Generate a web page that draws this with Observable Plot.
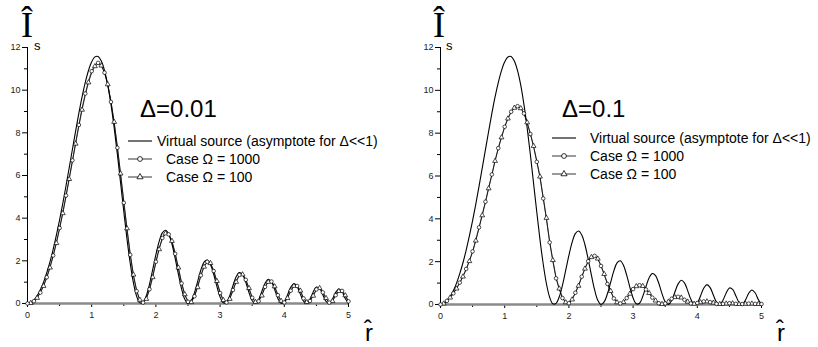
<!DOCTYPE html>
<html><head><meta charset="utf-8">
<script src="https://cdn.jsdelivr.net/npm/d3@7"></script>
<script src="https://cdn.jsdelivr.net/npm/@observablehq/plot@0.6"></script>
<style>
html,body{margin:0;padding:0;background:#fff;}
#wrap{display:flex;width:818px;height:347px;overflow:hidden;}
#wrap svg{display:block;}
</style></head><body><div id="wrap"></div>
<script>
// r-hat sample positions
const rGrid = [0.00,0.05,0.10,0.15,0.20,0.25,0.30,0.35,0.40,0.45,
  0.50,0.55,0.60,0.65,0.70,0.75,0.80,0.85,0.90,0.95,
  1.00,1.05,1.10,1.15,1.20,1.25,1.30,1.35,1.40,1.45,
  1.50,1.55,1.60,1.65,1.70,1.75,1.80,1.85,1.90,1.95,
  2.00,2.05,2.10,2.15,2.20,2.25,2.30,2.35,2.40,2.45,
  2.50,2.55,2.60,2.65,2.70,2.75,2.80,2.85,2.90,2.95,
  3.00,3.05,3.10,3.15,3.20,3.25,3.30,3.35,3.40,3.45,
  3.50,3.55,3.60,3.65,3.70,3.75,3.80,3.85,3.90,3.95,
  4.00,4.05,4.10,4.15,4.20,4.25,4.30,4.35,4.40,4.45,
  4.50,4.55,4.60,4.65,4.70,4.75,4.80,4.85,4.90,4.95,5.00];

// Virtual source (asymptote for Δ<<1), same in both panels
const virtualSource = [0,0.04,0.16,0.36,0.64,1.00,1.44,1.95,2.54,3.20,
  3.92,4.69,5.52,6.37,7.23,8.09,8.92,9.69,10.36,10.92,
  11.33,11.56,11.58,11.37,10.92,10.24,9.33,8.24,6.99,5.65,
  4.31,3.02,1.89,0.97,0.34,0.03,0.05,0.36,0.90,1.59,
  2.29,2.90,3.31,3.43,3.25,2.79,2.12,1.38,0.69,0.20,
  0.00,0.12,0.50,1.03,1.57,1.94,2.04,1.83,1.37,0.80,
  0.30,0.03,0.06,0.37,0.83,1.25,1.45,1.35,0.99,0.51,
  0.13,0.00,0.18,0.57,0.95,1.13,1.01,0.65,0.24,0.01,
  0.08,0.40,0.76,0.93,0.79,0.44,0.11,0.00,0.20,0.54,
  0.77,0.71,0.41,0.10,0.01,0.21,0.52,0.68,0.55,0.23,0.01];

// Δ=0.01, Case Ω = 1000
const d001_O1000 = [0,0.02,0.11,0.27,0.51,0.83,1.23,1.70,2.25,2.86,
  3.54,4.27,5.06,5.88,6.71,7.55,8.37,9.15,9.84,10.43,
  10.89,11.18,11.28,11.17,10.82,10.25,9.45,8.46,7.30,6.03,
  4.72,3.45,2.28,1.30,0.58,0.15,0.04,0.23,0.67,1.28,
  1.96,2.59,3.07,3.30,3.24,2.90,2.33,1.63,0.94,0.39,
  0.08,0.07,0.34,0.80,1.32,1.75,1.95,1.87,1.52,1.00,
  0.49,0.13,0.05,0.24,0.63,1.05,1.34,1.36,1.11,0.68,
  0.27,0.05,0.11,0.40,0.78,1.03,1.03,0.77,0.39,0.10,
  0.05,0.27,0.60,0.84,0.82,0.57,0.24,0.04,0.12,0.39,
  0.66,0.72,0.52,0.22,0.04,0.13,0.39,0.60,0.59,0.35,0.10];

// Δ=0.01, Case Ω = 100
const d001_O100 = [0,0.02,0.10,0.26,0.50,0.82,1.21,1.68,2.22,2.83,
  3.50,4.23,5.01,5.83,6.66,7.49,8.31,9.08,9.77,10.36,
  10.82,11.12,11.24,11.15,10.82,10.27,9.49,8.51,7.36,6.09,
  4.79,3.52,2.34,1.35,0.62,0.17,0.04,0.21,0.63,1.23,
  1.91,2.54,3.03,3.28,3.25,2.93,2.38,1.68,0.99,0.43,
  0.10,0.06,0.31,0.76,1.28,1.72,1.94,1.89,1.56,1.05,
  0.53,0.16,0.04,0.21,0.59,1.01,1.31,1.36,1.14,0.72,
  0.30,0.07,0.09,0.37,0.75,1.01,1.04,0.80,0.42,0.12,
  0.04,0.25,0.57,0.82,0.83,0.60,0.27,0.06,0.10,0.36,
  0.63,0.72,0.55,0.25,0.05,0.11,0.36,0.58,0.60,0.38,0.12];

// Δ=0.1, Case Ω = 1000
const d01_O1000 = [0,0.05,0.17,0.33,0.52,0.76,1.02,1.32,1.66,2.04,
  2.48,3.02,3.60,4.20,4.80,5.45,6.07,6.72,7.30,7.82,
  8.30,8.70,9.00,9.20,9.26,9.17,8.92,8.48,7.96,7.36,
  6.66,5.92,4.95,3.98,2.90,2.02,1.22,0.70,0.30,0.08,
  0.06,0.25,0.55,0.90,1.30,1.70,2.02,2.22,2.27,2.12,
  1.80,1.38,0.96,0.60,0.28,0.08,0.05,0.13,0.30,0.52,
  0.72,0.86,0.90,0.85,0.70,0.51,0.32,0.16,0.06,0.02,
  0.05,0.15,0.27,0.35,0.36,0.31,0.22,0.12,0.05,0.03,
  0.07,0.11,0.14,0.14,0.11,0.07,0.03,0.02,0.03,0.05,
  0.06,0.05,0.03,0.02,0.02,0.03,0.04,0.04,0.03,0.02,0.02];

// Δ=0.1, Case Ω = 100
const d01_O100 = [0,0.04,0.16,0.32,0.51,0.74,1.00,1.30,1.64,2.02,
  2.45,2.98,3.56,4.16,4.77,5.42,6.05,6.70,7.28,7.80,
  8.28,8.68,8.98,9.18,9.24,9.16,8.93,8.50,7.99,7.40,
  6.70,5.97,5.01,4.04,2.96,2.07,1.27,0.74,0.33,0.10,
  0.05,0.23,0.52,0.87,1.27,1.67,2.00,2.21,2.27,2.14,
  1.83,1.42,1.00,0.63,0.31,0.10,0.04,0.11,0.28,0.50,
  0.70,0.85,0.90,0.86,0.72,0.53,0.34,0.18,0.07,0.02,
  0.04,0.13,0.25,0.34,0.36,0.32,0.23,0.13,0.06,0.03,
  0.06,0.10,0.13,0.14,0.12,0.08,0.04,0.02,0.03,0.04,
  0.05,0.05,0.04,0.02,0.02,0.03,0.03,0.04,0.03,0.02,0.02];

const xMajor = [0,1,2,3,4,5];
const xMinor = [0.5,1.5,2.5,3.5,4.5];
const yMajor = [0,2,4,6,8,10,12];
const yMinor = [1,3,5,7,9,11];
const legendLabels = ["Virtual source (asymptote for \u0394<<1)", "Case \u03A9 = 1000", "Case \u03A9 = 100"];
const panelLabels = ["\u0394=0.01", "\u0394=0.1"];
const yTitle = "I\u0302";
const yTitleSub = "s";
const xTitle = "r\u0302";

const FONT = "'Liberation Sans', Arial, Helvetica, sans-serif";
const SERIF = "'Liberation Serif', 'Times New Roman', serif";

function panel(cfg) {
  const solid = rGrid.map((r, i) => ({r, v: cfg.source[i]}));
  const s1000 = rGrid.map((r, i) => ({r, v: cfg.o1000[i]}));
  const s100 = rGrid.map((r, i) => ({r, v: cfg.o100[i]}));
  const svg = Plot.plot({
    width: cfg.width, height: 347,
    marginLeft: cfg.ml, marginRight: cfg.mr, marginTop: 47, marginBottom: cfg.mb,
    x: {domain: [0, 5], label: null},
    y: {domain: [0, 12], label: null},
    style: {fontFamily: FONT, fontSize: "9px", color: "#000", background: "#fff", overflow: "visible"},
    marks: [
      Plot.axisY(yMajor, {tickSize: 5, tickPadding: 2, label: null, fill: "#222"}),
      Plot.axisY(yMinor, {tickSize: 3, tickFormat: () => "", label: null}),
      Plot.axisX(xMajor, {tickSize: 4, tickPadding: 4, label: null, fill: "#222"}),
      Plot.axisX(xMinor, {tickSize: 3, tickFormat: () => "", label: null}),
      Plot.ruleY([0], {stroke: "#8a8a8a", strokeWidth: 2.5}),
      Plot.ruleX([0], {y1: 0, y2: 12, stroke: "#000", strokeWidth: 1}),
      Plot.line(s1000, {x: "r", y: "v", stroke: "#000", strokeWidth: 0.7}),
      Plot.line(s100, {x: "r", y: "v", stroke: "#000", strokeWidth: 0.7}),
      Plot.line(solid, {x: "r", y: "v", stroke: "#000", strokeWidth: 1.1, curve: "catmull-rom"}),
      Plot.dot(s100, {filter: (d, i) => i % 2 === 1, x: "r", y: "v", symbol: "triangle", r: 1.8, fill: "#fff", stroke: "#000", strokeWidth: 0.7}),
      Plot.dot(s1000, {filter: (d, i) => i % 2 === 0, x: "r", y: "v", symbol: "circle", r: 1.8, fill: "#fff", stroke: "#000", strokeWidth: 0.7})
    ]
  });
  const g = d3.select(svg).append("g").attr("text-anchor", "start");
  // y axis title: I-hat with subscript s
  g.append("text").attr("x", cfg.ix).attr("y", 37).attr("text-anchor", "middle")
    .attr("font-family", SERIF).attr("font-size", 36).attr("fill", "#000").text(yTitle);
  g.append("text").attr("x", cfg.sx).attr("y", 50).attr("text-anchor", "start")
    .attr("font-family", FONT).attr("font-size", 13).attr("fill", "#000").text(yTitleSub);
  // x axis title: r-hat
  g.append("text").attr("x", cfg.rx).attr("y", 341).attr("text-anchor", "middle")
    .attr("font-family", FONT).attr("font-size", 24).attr("fill", "#000").text(xTitle);
  // panel annotation
  g.append("text").attr("x", cfg.ax).attr("y", 117).attr("text-anchor", "start")
    .attr("font-family", FONT).attr("font-size", 24).attr("fill", "#000").text(cfg.label);
  // legend
  cfg.rows.forEach((yy, k) => {
    g.append("line").attr("x1", cfg.lx1).attr("x2", cfg.lx2).attr("y1", yy).attr("y2", yy)
      .attr("stroke", "#000").attr("stroke-width", k === 0 ? 1.1 : 0.8);
    const cx = (cfg.lx1 + cfg.lx2) / 2;
    if (k === 1) {
      g.append("circle").attr("cx", cx).attr("cy", yy).attr("r", 2.4)
        .attr("fill", "#fff").attr("stroke", "#000").attr("stroke-width", 0.8);
    } else if (k === 2) {
      g.append("path").attr("transform", `translate(${cx},${yy})`)
        .attr("d", d3.symbol(d3.symbolTriangle, 16)())
        .attr("fill", "#fff").attr("stroke", "#000").attr("stroke-width", 0.8);
    }
    g.append("text").attr("x", k === 0 ? cfg.tx0 : cfg.tx).attr("y", yy + 5).attr("text-anchor", "start")
      .attr("font-family", FONT).attr("font-size", 14).attr("fill", "#000").text(legendLabels[k]);
  });
  return svg;
}

const wrap = document.getElementById("wrap");
wrap.appendChild(panel({
  width: 409, ml: 27, mr: 61, mb: 44,
  source: virtualSource, o1000: d001_O1000, o100: d001_O100,
  label: panelLabels[0], ix: 27, sx: 34, rx: 369, ax: 140,
  rows: [141, 159, 177], lx1: 128, lx2: 152, tx0: 157, tx: 166
}));
wrap.appendChild(panel({
  width: 409, ml: 31, mr: 57, mb: 43,
  source: virtualSource, o1000: d01_O1000, o100: d01_O100,
  label: panelLabels[1], ix: 30, sx: 37, rx: 372, ax: 153,
  rows: [138, 156, 174], lx1: 143, lx2: 167, tx0: 181, tx: 181
}));
</script>
</body></html>
